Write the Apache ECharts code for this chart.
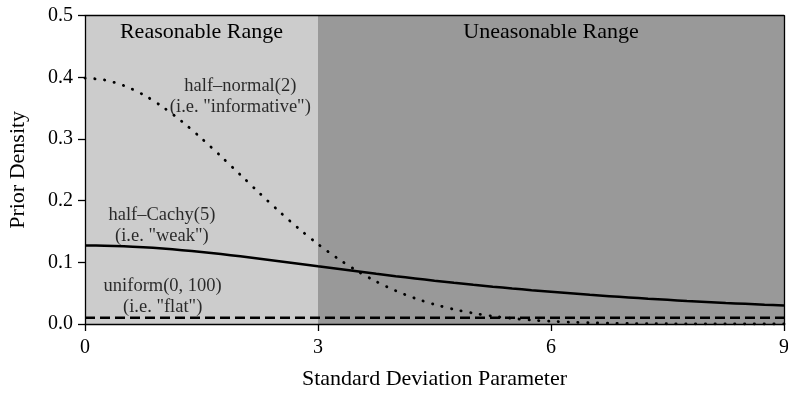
<!DOCTYPE html>
<html>
<head>
<meta charset="utf-8">
<script src="https://cdn.jsdelivr.net/npm/echarts@6/dist/echarts.min.js"></script>
<style>
html,body{margin:0;padding:0;background:#fff;}
#chart{width:788px;height:394px;}
</style>
</head>
<body>
<div id="chart"></div>
<script>
// x positions (Standard Deviation Parameter)
const xs = [0,0.25,0.5,0.75,1,1.25,1.5,1.75,2,2.25,2.5,2.75,3,3.25,3.5,3.75,4,4.25,4.5,4.75,5,5.25,5.5,5.75,6,6.25,6.5,6.75,7,7.25,7.5,7.75,8,8.25,8.5,8.75,9];
// half-normal(2) prior density (dotted)
const halfNormal = [0.3989,0.3958,0.3867,0.3719,0.3521,0.3282,0.3011,0.2720,0.2420,0.2119,0.1826,0.1550,0.1295,0.1066,0.0863,0.0688,0.0540,0.0417,0.0317,0.0238,0.0175,0.0127,0.0091,0.0064,0.0044,0.0030,0.0020,0.0013,0.0009,0.0006,0.0004,0.0002,0.0001,0.0001,0,0,0];
// half-Cauchy(5) prior density (solid)
const halfCauchy = [0.1273,0.1270,0.1261,0.1245,0.1224,0.1198,0.1168,0.1134,0.1098,0.1059,0.1019,0.0978,0.0936,0.0895,0.0855,0.0815,0.0776,0.0739,0.0703,0.0669,0.0637,0.0606,0.0576,0.0548,0.0522,0.0497,0.0473,0.0451,0.0430,0.0410,0.0392,0.0374,0.0358,0.0342,0.0327,0.0313,0.0300];
// uniform(0, 100) prior density (dashed)
const uniform = [0.01,0.01,0.01,0.01,0.01,0.01,0.01,0.01,0.01,0.01,0.01,0.01,0.01,0.01,0.01,0.01,0.01,0.01,0.01,0.01,0.01,0.01,0.01,0.01,0.01,0.01,0.01,0.01,0.01,0.01,0.01,0.01,0.01,0.01,0.01,0.01,0.01];
// ranges
const rangeNames = ['Reasonable Range','Uneasonable Range'];
const rangeBounds = [[0,3],[3,9]];
const rangeColors = ['#cccccc','#999999'];
// curve annotations
const annotations = [
  'half\u2013normal(2)\n(i.e. "informative")',
  'half\u2013Cachy(5)\n(i.e. "weak")',
  'uniform(0, 100)\n(i.e. "flat")'
];
const xTicks = [0,3,6,9];
const yTicks = [0,0.1,0.2,0.3,0.4,0.5];

const FONT = '"Liberation Serif", "DejaVu Serif", serif';
const pair = arr => xs.map((x,i)=>[x,arr[i]]);

const chart = echarts.init(document.getElementById('chart'), null, {renderer:'canvas'});
const annPos = [[2.0,0.368],[0.99,0.159],[1.0,0.045]];

chart.setOption({
  animation:false,
  backgroundColor:'#ffffff',
  textStyle:{fontFamily:FONT},
  grid:{left:85, right:4, top:15.7, bottom:70, containLabel:false, outerBoundsMode:'none'},
  xAxis:[{
    type:'value', min:xTicks[0], max:xTicks[xTicks.length-1], interval:3, z:10,
    name:'Standard Deviation Parameter', nameLocation:'middle', nameGap:44,
    nameTextStyle:{fontFamily:FONT, fontSize:22, color:'#000'},
    axisLine:{show:true, lineStyle:{color:'#000', width:1.3}},
    axisTick:{show:true, length:7, lineStyle:{color:'#000', width:1.3}},
    axisLabel:{fontFamily:FONT, fontSize:20, color:'#000', margin:14},
    splitLine:{show:false}
  },{
    type:'value', position:'top', min:0, max:9, z:10,
    axisLine:{show:true, onZero:false, lineStyle:{color:'#000', width:1.3}},
    axisTick:{show:false}, axisLabel:{show:false}, splitLine:{show:false}
  }],
  yAxis:[{
    type:'value', min:yTicks[0], max:yTicks[yTicks.length-1], interval:0.1, z:10,
    name:'Prior Density', nameLocation:'middle', nameGap:56,
    nameTextStyle:{fontFamily:FONT, fontSize:22, color:'#000'},
    axisLine:{show:true, lineStyle:{color:'#000', width:1.3}},
    axisTick:{show:true, length:7, lineStyle:{color:'#000', width:1.3}},
    axisLabel:{fontFamily:FONT, fontSize:20, color:'#000', margin:12, formatter:v=>v.toFixed(1)},
    splitLine:{show:false}
  },{
    type:'value', position:'right', min:0, max:0.5, z:10,
    axisLine:{show:true, onZero:false, lineStyle:{color:'#000', width:1.3}},
    axisTick:{show:false}, axisLabel:{show:false}, splitLine:{show:false}
  }],
  series:[
    {
      type:'line', data:[], silent:true,
      markArea:{
        silent:true,
        data: rangeBounds.map((b,i)=>[
          {xAxis:b[0], name:rangeNames[i], itemStyle:{color:rangeColors[i], opacity:1}},
          {xAxis:b[1]}
        ]),
        label:{show:true, position:'insideTop', distance:6, fontFamily:FONT, fontSize:22, color:'#000'}
      }
    },
    {
      name:'uniform', type:'line', data:pair(uniform), showSymbol:false, symbol:'none', z:3,
      lineStyle:{color:'#000', width:2.5, type:[10,5]}
    },
    {
      name:'half-Cauchy', type:'line', data:pair(halfCauchy), showSymbol:false, symbol:'none', smooth:0.3, z:4,
      lineStyle:{color:'#000', width:2.5, type:'solid'}
    },
    {
      name:'half-normal', type:'line', data:pair(halfNormal), showSymbol:false, symbol:'none', smooth:0.3, z:5,
      lineStyle:{color:'#000', width:2.8, type:[0.3,9.5], cap:'round'}
    },
    {
      type:'scatter', symbolSize:0, z:6, silent:true,
      data: annotations.map((t,i)=>({name:t, value:annPos[i]})),
      label:{show:true, position:'inside', formatter:p=>p.name, fontFamily:FONT, fontSize:18.5, lineHeight:21, color:'#000', align:'center'}
    }
  ]
});
</script>
</body>
</html>
